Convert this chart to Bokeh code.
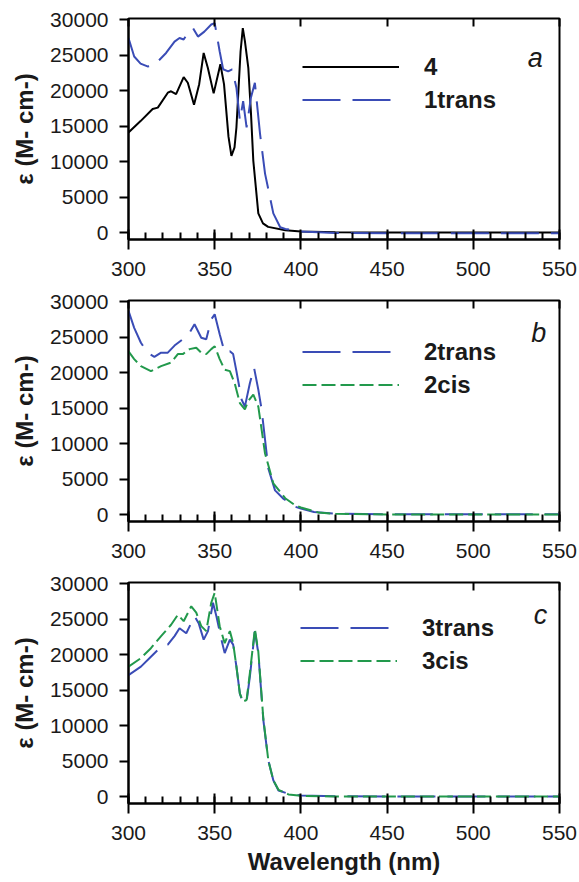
from bokeh.plotting import figure
from bokeh.layouts import column
from bokeh.models import Range1d, LinearAxis, FixedTicker, Legend, LegendItem, Label
from bokeh.embed import file_html
from bokeh.resources import INLINE

# ---------------- data ----------------
# panel a
wl_4 = [300, 307, 314, 317, 322.8, 324.7, 327.6, 332, 334.4, 338, 341, 343.6, 346, 349.4,
        353.3, 355.4, 358, 359.7, 361.5, 362.6, 365, 366.3, 367.5, 369.5, 371, 372.4, 375.3,
        378, 381, 391, 400, 420, 450, 500, 550]
eps_4 = [14100, 15700, 17400, 17600, 19700, 19900, 19500, 21900, 21100, 18000, 20900, 25300,
         23200, 19600, 23700, 20900, 13500, 10800, 12000, 14800, 25500, 28800, 27000, 23200,
         17000, 10100, 2700, 1300, 800, 330, 150, 30, 0, 0, 0]

wl_1trans = [300, 303.3, 307, 311, 314, 317, 321.8, 326.7, 329.6, 332, 334.4, 337.4, 340.3,
             344, 348, 350, 352.9, 354.9, 357.8, 360.1, 362.6, 364.6, 366.5, 368.5, 371,
             373.3, 376.3, 379.2, 384, 388, 391, 400, 420, 450, 500, 550]
eps_1trans = [27400, 24800, 23800, 23400, 23500, 24100, 25300, 26900, 27400, 27200, 28100,
              28800, 27600, 28300, 29300, 29500, 25500, 23000, 22700, 23000, 20400, 15800,
              18500, 14800, 19000, 21100, 13900, 8300, 2700, 750, 500, 140, -50, -100, -100, -100]

# panel b
wl_2trans = [300, 303.3, 307.2, 311, 315, 318.9, 322.8, 326.7, 331.5, 335.4, 338.3, 342.2,
             345.1, 348, 350, 352.9, 355.8, 358.8, 360.7, 362.6, 365.6, 367.5, 370.4, 372.8,
             375.3, 377.2, 381.1, 385, 390, 396.7, 400, 407.6, 419, 450, 500, 550]
eps_2trans = [28700, 26300, 24200, 22800, 22200, 22800, 22800, 23800, 24700, 25600, 26800,
              24900, 24700, 27500, 28200, 25400, 22800, 23000, 22600, 20200, 16200, 15200,
              18500, 20700, 17600, 14800, 6500, 3400, 2200, 1100, 850, 370, 150, 50, 50, 50]

wl_2cis = [300, 303.3, 307.2, 313, 318.9, 324.7, 328.6, 331.5, 335.4, 339.3, 342.2, 345.1,
           348, 350, 352.9, 355.8, 358.8, 361.6, 364.6, 367.5, 369.5, 372.4, 375.3, 379.2,
           384, 390.9, 396.7, 400, 410, 420, 450, 500, 550]
eps_2cis = [23000, 21900, 20900, 20200, 20900, 21400, 22600, 22600, 23300, 23500, 22800,
            22600, 23300, 23700, 21900, 20400, 20200, 18500, 15700, 14800, 16000, 16900,
            15200, 8600, 4400, 2300, 1300, 1000, 300, 100, 0, 0, 0]

# panel c
wl_3trans = [300, 307.2, 313, 318.9, 322.8, 326.7, 329.6, 333.5, 338.3, 340.7, 343.6, 346.1,
             349, 351, 353.9, 355.8, 358.8, 360.7, 362.6, 364.6, 366.5, 368.5, 370.4, 373.3,
             375.3, 378.2, 381.1, 384, 387, 392.8, 400, 420, 450, 500, 550]
eps_3trans = [17100, 18300, 19700, 21100, 21400, 22600, 23700, 23000, 25400, 24400, 22100,
              23300, 27300, 25400, 22100, 20200, 22100, 21400, 18300, 14500, 13100, 13400,
              16900, 23300, 20200, 10800, 5100, 2300, 850, 380, 150, 50, 0, 0, 0]

wl_3cis = [300, 307.2, 313, 318.9, 324.7, 328.6, 332, 336.4, 339.3, 342.2, 345.1, 348, 350,
           352.9, 355.8, 358.8, 360.7, 362.6, 364.6, 366.5, 368.5, 370.4, 373.3, 375.3, 378.2,
           381.1, 384, 387, 392.8, 400, 420, 450, 500, 550]
eps_3cis = [18300, 19500, 20900, 22600, 24200, 25600, 24700, 26800, 25900, 24000, 23300,
            27300, 28700, 24000, 21600, 23300, 21600, 18300, 14500, 13400, 13600, 17400,
            23600, 20400, 11000, 5100, 2300, 950, 300, 100, 0, 0, 0, 0]

x_ticks = [300, 350, 400, 450, 500, 550]
x_minor = list(range(300, 551, 10))
y_ticks = [0, 5000, 10000, 15000, 20000, 25000, 30000]

BLUE = "#3a4cb6"
GREEN = "#22994c"
TXT = "#1a1a1a"
FONT = "Liberation Sans"


def make_panel(height, border_top, border_bottom, letter, letter_pos, xlabel=False):
    p = figure(width=579, height=height, x_range=Range1d(300, 550),
               y_range=Range1d(-980, 30150), output_backend="svg",
               toolbar_location=None, min_border_left=128, min_border_right=20,
               min_border_top=border_top, min_border_bottom=border_bottom)
    p.grid.visible = False
    p.outline_line_color = "black"
    p.outline_line_width = 2
    p.background_fill_color = "white"

    xa = p.xaxis[0]
    xa.ticker = FixedTicker(ticks=x_ticks, minor_ticks=x_minor)
    xa.major_tick_in = 10
    xa.major_tick_out = 10
    xa.minor_tick_in = 7
    xa.minor_tick_out = 0
    xa.major_tick_line_width = 2
    xa.minor_tick_line_width = 2
    xa.axis_line_width = 2
    xa.major_label_text_font = FONT
    xa.major_label_text_font_size = "21px"
    xa.major_label_text_color = TXT
    xa.major_label_standoff = 12
    if xlabel:
        xa.axis_label = "Wavelength (nm)"
        xa.axis_label_text_font = FONT
        xa.axis_label_text_font_size = "24px"
        xa.axis_label_text_font_style = "bold"
        xa.axis_label_text_color = TXT
        xa.axis_label_standoff = 5

    ya = p.yaxis[0]
    ya.ticker = FixedTicker(ticks=y_ticks, minor_ticks=[])
    ya.major_tick_in = 0
    ya.major_tick_out = 9
    ya.major_tick_line_width = 2
    ya.axis_line_width = 2
    ya.major_label_text_font = FONT
    ya.major_label_text_font_size = "21px"
    ya.major_label_text_color = TXT
    ya.major_label_standoff = 11
    ya.axis_label = "ε (M- cm-)"
    ya.axis_label_text_font = FONT
    ya.axis_label_text_font_size = "24px"
    ya.axis_label_text_font_style = "bold"
    ya.axis_label_text_color = TXT
    ya.axis_label_standoff = 9

    top = LinearAxis(ticker=FixedTicker(ticks=x_ticks, minor_ticks=[]),
                     major_tick_in=8, major_tick_out=0, major_tick_line_width=2,
                     major_label_text_font_size="1px", major_label_text_color=None,
                     major_label_standoff=0, axis_line_color=None)
    p.add_layout(top, "above")

    p.add_layout(Label(x=letter_pos[0], y=letter_pos[1], text=letter,
                       text_font=FONT, text_font_size="27px", text_font_style="italic",
                       text_color=TXT, text_align="center", text_baseline="middle"))
    return p


def add_legend(p, items, loc):
    lg = Legend(items=items, location=loc, padding=0, margin=0, spacing=0,
                glyph_width=97, glyph_height=33, label_height=33, label_standoff=25,
                border_line_color=None, background_fill_alpha=0,
                label_text_font=FONT, label_text_font_size="24px",
                label_text_font_style="bold", label_text_color=TXT)
    p.add_layout(lg, "center")


# panel a
pa = make_panel(290, 18, 51, "a", (536, 24600))
r4 = pa.line(wl_4, eps_4, line_color="black", line_width=2)
r1t = pa.line(wl_1trans, eps_1trans, line_color=BLUE, line_width=2, line_dash="38 12")
add_legend(pa, [LegendItem(label="4", renderers=[r4]),
                LegendItem(label="1trans", renderers=[r1t])], (174, 123))

# panel b
pb = make_panel(282, 10, 51, "b", (538, 25600))
r2t = pb.line(wl_2trans, eps_2trans, line_color=BLUE, line_width=2, line_dash="38 12")
r2c = pb.line(wl_2cis, eps_2cis, line_color=GREEN, line_width=2, line_dash="14 5")
add_legend(pb, [LegendItem(label="2trans", renderers=[r2t]),
                LegendItem(label="2cis", renderers=[r2c])], (174, 120))

# panel c
pc = make_panel(310, 10, 79, "c", (539, 25600), xlabel=True)
r3t = pc.line(wl_3trans, eps_3trans, line_color=BLUE, line_width=2, line_dash="38 12")
r3c = pc.line(wl_3cis, eps_3cis, line_color=GREEN, line_width=2, line_dash="14 5")
add_legend(pc, [LegendItem(label="3trans", renderers=[r3t]),
                LegendItem(label="3cis", renderers=[r3c])], (172, 126))

layout = column(pa, pb, pc, spacing=0)
open("out.html", "w").write(file_html(layout, INLINE))
